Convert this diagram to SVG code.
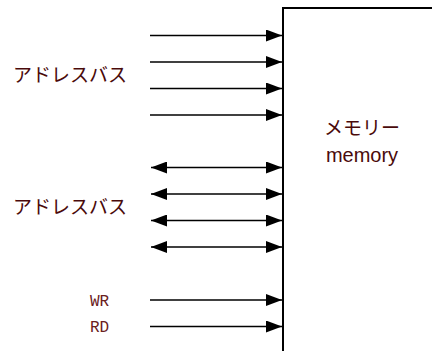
<svg xmlns="http://www.w3.org/2000/svg" width="432" height="351" viewBox="0 0 432 351">
<defs>
<marker id="ah" viewBox="0 0 16 12" refX="16" refY="6" markerWidth="16" markerHeight="12" markerUnits="userSpaceOnUse" orient="auto-start-reverse">
<path d="M0,0 L16,6 L0,12 Z" fill="#000"/>
</marker>
</defs>
<style>
.c{stroke:#000;stroke-width:1.3;fill:none}
.uni{marker-end:url(#ah)}
.bi{marker-start:url(#ah);marker-end:url(#ah)}
.jp{font-family:"Noto Sans CJK JP","Liberation Sans",sans-serif;font-size:19px;fill:#4a0a0a}
.mono{font-family:"Liberation Mono",monospace;font-size:16px;font-weight:normal;fill:#6a2020}
.en{font-family:"Liberation Sans",sans-serif;font-size:20px;fill:#4a0a0a}
</style>
<rect width="432" height="351" fill="#fff"/>
<g id="memory">
<rect x="283" y="8" width="160" height="360" fill="#fff" stroke="#000" stroke-width="2"/>
<text class="jp" x="362" y="135" text-anchor="middle">メモリー</text>
<text class="en" x="362" y="162" text-anchor="middle">memory</text>
</g>
<g id="label-address">
<text class="jp" x="13" y="82">アドレスバス</text>
</g>
<g id="label-data">
<text class="jp" x="13" y="214">アドレスバス</text>
</g>
<g id="label-wr"><text class="mono" x="90" y="306">WR</text></g>
<g id="label-rd"><text class="mono" x="90" y="332">RD</text></g>
<g id="connectors">
<line class="c uni" x1="150" y1="35.5" x2="282" y2="35.5"/>
<line class="c uni" x1="150" y1="62" x2="282" y2="62"/>
<line class="c uni" x1="150" y1="88.5" x2="282" y2="88.5"/>
<line class="c uni" x1="150" y1="115" x2="282" y2="115"/>
<line class="c bi" x1="151" y1="167.5" x2="282" y2="167.5"/>
<line class="c bi" x1="151" y1="194" x2="282" y2="194"/>
<line class="c bi" x1="151" y1="220.5" x2="282" y2="220.5"/>
<line class="c bi" x1="151" y1="247" x2="282" y2="247"/>
<line class="c uni" x1="150" y1="300" x2="282" y2="300"/>
<line class="c uni" x1="150" y1="326.5" x2="282" y2="326.5"/>
</g>
</svg>
